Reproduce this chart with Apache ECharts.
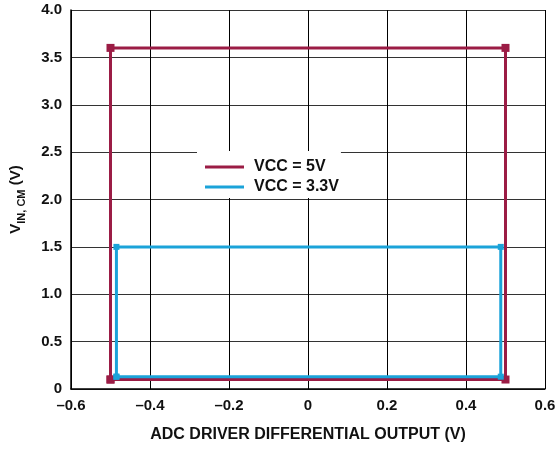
<!DOCTYPE html>
<html>
<head>
<meta charset="utf-8">
<script src="https://cdn.jsdelivr.net/npm/echarts@6/dist/echarts.min.js"></script>
<style>
  html, body { margin: 0; padding: 0; background: #fff; }
  #chart { width: 557px; height: 449px; }
</style>
</head>
<body>
<div id="chart"></div>
<script>
// corner points of each operating window, closed back to the start
const vcc5X = [-0.5, -0.5, 0.5, 0.5, -0.5]
const vcc5Y = [0.1, 3.6, 3.6, 0.1, 0.1]
const vcc33X = [-0.485, -0.485, 0.488, 0.488, -0.485]
const vcc33Y = [0.13, 1.5, 1.5, 0.13, 0.13]
const seriesNames = ['VCC = 5V', 'VCC = 3.3V']

const RED = '#9b1c45'
const BLUE = '#1ba3d9'
const FONT = 'Liberation Sans, Arial, sans-serif'

function pairs (xs, ys) {
  return xs.map((x, i) => [x, ys[i]])
}

const chart = echarts.init(document.getElementById('chart'))
chart.setOption({
  animation: false,
  backgroundColor: '#fff',
  grid: { left: 71, right: 12, top: 10, bottom: 60, outerBoundsMode: 'none', containLabel: false },
  legend: {
    left: 197,
    top: 151,
    orient: 'vertical',
    backgroundColor: '#fff',
    padding: [8, 2, 3, 8],
    itemGap: 4,
    itemWidth: 39,
    itemHeight: 3,
    icon: 'rect',
    textStyle: { fontFamily: FONT, fontWeight: 'bold', fontSize: 16, color: '#111', padding: [0, 0, 0, 5] },
    data: seriesNames
  },
  xAxis: {
    type: 'value',
    min: -0.6,
    max: 0.6,
    interval: 0.2,
    name: 'ADC DRIVER DIFFERENTIAL OUTPUT (V)',
    nameLocation: 'middle',
    nameGap: 38,
    nameTextStyle: { fontFamily: FONT, fontWeight: 'bold', fontSize: 16, color: '#111' },
    axisLine: { show: true, onZero: false, lineStyle: { color: '#000', width: 1.5 } },
    axisTick: { show: false },
    axisLabel: {
      fontFamily: FONT, fontWeight: 'bold', fontSize: 15, color: '#111', margin: 9,
      formatter: v => {
        const r = Math.round(v * 10) / 10
        if (r === 0) return '0'
        return (r < 0 ? '\u2013' : '') + Math.abs(r).toFixed(1)
      }
    },
    splitLine: { show: true, lineStyle: { color: '#000', width: 1 } }
  },
  yAxis: {
    type: 'value',
    min: 0,
    max: 4,
    interval: 0.5,
    name: '{a|V}{b|IN, CM}{a| (V)}',
    nameLocation: 'middle',
    nameGap: 43,
    nameTextStyle: {
      rich: {
        a: { fontFamily: FONT, fontWeight: 'bold', fontSize: 15, color: '#111', lineHeight: 24, verticalAlign: 'middle' },
        b: { fontFamily: FONT, fontWeight: 'bold', fontSize: 11, color: '#111', lineHeight: 24, verticalAlign: 'bottom', padding: [0, 0, 1, 0] }
      }
    },
    axisLine: { show: true, onZero: false, lineStyle: { color: '#000', width: 1.5 } },
    axisTick: { show: false },
    axisLabel: {
      fontFamily: FONT, fontWeight: 'bold', fontSize: 15, color: '#111', margin: 9,
      formatter: v => v === 0 ? '0' : v.toFixed(1)
    },
    splitLine: { show: true, lineStyle: { color: '#333', width: 1 } }
  },
  series: [
    {
      name: seriesNames[0],
      type: 'line',
      data: pairs(vcc5X, vcc5Y),
      color: RED,
      symbol: 'rect',
      symbolSize: 8,
      lineStyle: { width: 3, color: RED },
      itemStyle: { color: RED },
      z: 3
    },
    {
      name: seriesNames[1],
      type: 'line',
      data: pairs(vcc33X, vcc33Y),
      color: BLUE,
      symbol: 'rect',
      symbolSize: 6,
      lineStyle: { width: 3, color: BLUE },
      itemStyle: { color: BLUE },
      z: 4
    }
  ]
})
</script>
</body>
</html>
